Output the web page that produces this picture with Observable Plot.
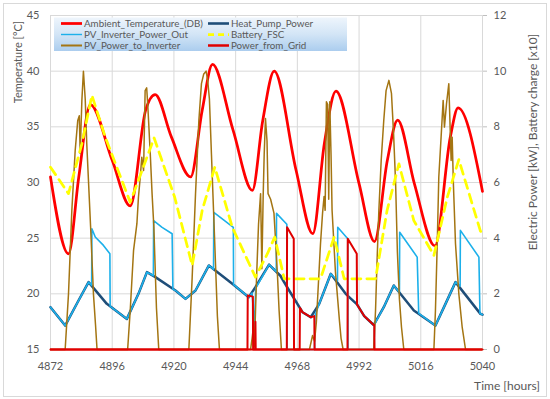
<!DOCTYPE html>
<html><head><meta charset="utf-8">
<script src="https://cdn.jsdelivr.net/npm/d3@7"></script>
<script src="https://cdn.jsdelivr.net/npm/@observablehq/plot@0.6"></script>
<style>
html,body{margin:0;padding:0;background:#fff;}
#wrap{position:relative;width:550px;height:399px;overflow:hidden;font-family:Lato,"Open Sans",sans-serif;}
#frame{position:absolute;left:3px;top:3px;width:542px;height:392px;border:1px solid #d9d9d9;pointer-events:none;}
#chart{position:absolute;left:0;top:0;}
</style></head><body><div id="wrap"><div id="chart"></div><div id="frame"></div></div>
<script>
// ---------- data ----------
const hourTicks = [4872, 4896, 4920, 4944, 4968, 4992, 5016, 5040];
const powerTicks = [0, 2, 4, 6, 8, 10, 12];
const tempTicks = [15, 20, 25, 30, 35, 40, 45];

const seriesNames = ["Ambient_Temperature_(DB)", "Heat_Pump_Power", "PV_Inverter_Power_Out", "Battery_FSC", "PV_Power_to_Inverter", "Power_from_Grid"];
const seriesColors = ["#ff0000", "#1f4e79", "#1cb0ea", "#ffff00", "#a47512", "#e00000"];

// [hour, °C]
const ambientTemperature = [[4872,30.5],[4879,23.6],[4883,30.5],[4887.5,37.0],[4896,32.0],[4903,27.9],[4909,36.5],[4912.7,37.9],[4919,34.1],[4926.5,30.5],[4931,36.5],[4935,40.6],[4943,34.7],[4950.5,29.3],[4954.5,35.5],[4959,40.0],[4967.5,31.1],[4974,25.4],[4978.5,33.5],[4983,38.2],[4992,29.9],[4998,24.7],[5003,32.0],[5007,35.6],[5013.5,29.9],[5021.5,24.3],[5027.5,34.1],[5030.5,36.7],[5040,29.2]];

// [hour, kW]
const heatPumpPower = [[4872,1.52],[4877.7,0.86],[4882.9,1.76],[4886.8,2.42],[4893.9,1.64],[4901.7,1.10],[4906.2,2.0],[4909.5,2.78],[4912.8,2.6],[4920.6,2.12],[4924.5,1.82],[4928.4,2.12],[4933.6,3.02],[4942.7,2.36],[4949.1,1.88],[4951.7,2.24],[4957.0,3.05],[4961.4,2.65],[4964.8,2.12],[4970.0,1.34],[4973.2,1.16],[4976.5,1.64],[4981.0,2.72],[4986.8,2.0],[4991.2,1.62],[4994,1.2],[4997.7,0.88],[5001.6,1.52],[5005.5,2.3],[5013.3,1.4],[5021.7,0.86],[5025.6,1.64],[5029.5,2.42],[5039.2,1.28],[5040,1.25]];

const pvInverterPowerOut = [[4872,1.52],[4877.7,0.86],[4882.9,1.76],[4886.8,2.42],[4888.0,2.3],
 [4888.1,4.34],[4889.4,4.04],[4892.6,3.74],[4895.1,3.44],
 [4895.2,1.55],[4901.7,1.10],[4906.2,2.0],[4909.5,2.78],[4912.0,2.65],
 [4912.1,4.63],[4915.4,4.39],[4919.3,4.16],
 [4919.6,2.16],[4920.6,2.12],[4924.5,1.82],[4928.4,2.12],[4933.6,3.02],[4935.4,2.88],
 [4935.5,4.93],[4943.1,4.39],
 [4943.2,2.33],[4949.1,1.88],[4950.4,2.03],[4951.3,0.8],[4951.8,2.2],[4957.0,3.05],[4959.8,2.8],
 [4959.9,4.89],[4963.9,4.5],
 [4964.0,0],[4974.7,0],
 [4974.8,1.2],[4976.5,1.64],[4981.0,2.72],[4983.6,2.47],
 [4983.7,4.39],[4987.6,3.98],
 [4987.7,0],[4997.9,0],
 [4998.0,0.9],[5001.6,1.52],[5005.5,2.3],[5007.7,2.05],
 [5007.8,4.21],[5014.6,3.32],
 [5015.2,1.3],[5021.7,0.86],[5025.6,1.64],[5029.5,2.42],[5031.3,2.28],
 [5031.4,4.28],[5038.6,3.32],
 [5039.0,1.3],[5040,1.25]];

// [hour, charge x10]
const batteryFSC = [[4872,6.55],[4879.0,5.6],[4884.2,7.39],[4888.1,9.13],[4893.3,7.63],[4903.0,5.29],[4912.3,7.6],[4920.3,5.47],[4927.1,3.02],[4931.0,5.0],[4935.9,6.55],[4942.7,4.39],[4951.7,2.6],[4956.4,3.45],[4959.2,4.04],[4962.9,2.54],[4977.0,2.54],[4982.3,4.04],[4986.2,2.54],[4998.4,2.54],[5002.9,5.0],[5007.5,6.67],[5013.3,4.63],[5021.1,3.38],[5026.3,5.47],[5030.8,6.82],[5039.2,4.25],[5040,4.2]];

const pvPowerToInverter = [[4872,0],
 [4877.7,0],[4879.0,2.0],[4880.3,5.0],[4881.6,7.15],[4882.6,8.23],[4883.2,8.4],[4883.55,7.04],[4884.2,8.95],[4884.8,10.0],[4885.5,9.0],[4886.1,7.4],[4886.8,6.0],[4887.6,4.4],[4888.7,2.0],[4889.5,0.9],[4890.1,0],
 [4902.0,0],[4903.0,1.4],[4904.3,3.56],[4905.6,4.52],[4906.2,5.47],[4906.9,6.19],[4907.5,6.91],[4908.2,6.43],[4908.8,9.3],[4909.4,9.4],[4909.8,8.83],[4910.8,7.03],[4911.5,5.6],[4912.2,4.39],[4913.2,1.5],[4914.1,0],
 [4925.8,0],[4927.1,2.6],[4928.4,5.6],[4929.7,8.23],[4930.7,9.55],[4931.6,9.9],[4932.5,10.0],[4933.1,9.7],[4933.8,9.0],[4934.6,7.0],[4935.4,5.0],[4936.2,3.0],[4936.9,1.2],[4937.7,0],
 [4949.8,0],[4950.4,0.4],[4950.9,0.8],[4951.3,0.1],[4952.1,2.5],[4952.9,4.5],[4953.7,5.6],[4954.2,2.9],[4954.7,5.5],[4955.1,7.0],[4955.6,8.3],[4956.2,7.5],[4956.6,5.6],[4957.6,5.4],[4958.9,4.9],[4959.6,3.8],[4960.3,2.6],[4960.9,1.4],[4961.8,0],
 [4972.7,0],[4973.9,0.5],[4974.7,0.3],[4975.4,1.0],[4976.2,2.4],[4977.0,3.8],[4977.8,4.9],[4978.4,5.5],[4978.8,5.0],[4979.3,8.9],[4979.8,8.8],[4980.2,5.4],[4980.6,8.9],[4981.1,7.0],[4981.5,5.0],[4982.1,4.0],[4982.8,2.8],[4983.6,1.9],[4984.4,1.0],[4985.0,0.4],[4985.8,0],
 [4997.7,0],[4998.4,1.4],[4999.0,3.2],[4999.7,5.0],[5000.6,6.79],[5001.6,8.23],[5002.5,9.3],[5003.6,9.67],[5004.6,9.2],[5005.4,7.8],[5006.2,6.0],[5006.9,3.5],[5007.7,1.8],[5008.5,0.8],[5009.4,0],
 [5021.1,0],[5021.7,1.4],[5022.4,3.8],[5023.0,6.19],[5023.9,7.63],[5024.7,8.95],[5025.2,7.99],[5026.0,8.83],[5026.9,9.55],[5027.4,8.0],[5027.8,6.79],[5028.2,7.63],[5028.7,5.9],[5029.5,3.8],[5030.8,2.0],[5032.1,0.8],[5033.4,0],
 [5040,0]];

const powerFromGrid = [[4872,0],[4948.6,0],[4948.7,1.94],[4950.7,1.9],[4950.8,0],[4951.6,0],[4951.7,1.0],[4951.8,0],[4963.9,0],[4964.0,4.39],[4966.6,3.98],[4966.7,0],[4968.9,0],[4969.0,1.5],[4970.0,1.34],[4973.2,1.16],[4974.6,1.2],[4974.7,0],[4987.5,0],[4987.6,3.98],[4991.1,3.44],[4991.2,1.62],[4994,1.2],[4997.7,0.88],[4997.9,0.88],[4998.0,0],[5040,0]];

// ---------- chart ----------
const toPowerScale = d => (d[1] - tempTicks[0]) * (powerTicks[powerTicks.length-1] / (tempTicks[tempTicks.length-1] - tempTicks[0]));
const gridColor = "#d9d9d9";
const txtFont = "Lato, 'Open Sans', sans-serif";

const chart = Plot.plot({
  width: 550, height: 399,
  marginLeft: 50, marginRight: 68, marginTop: 15, marginBottom: 50,
  style: {fontFamily: txtFont, fontSize: "11px", color: "#595959", background: "none", overflow: "visible"},
  x: {domain: [4872, 5040]},
  y: {domain: [0, 12]},
  marks: [
    Plot.gridX(hourTicks, {stroke: gridColor, strokeOpacity: 1}),
    Plot.gridY(powerTicks, {stroke: gridColor, strokeOpacity: 1}),
    Plot.axisX(hourTicks, {tickSize: 0, tickPadding: 13, tickFormat: d => String(d), label: null, fontSize: 11}),
    Plot.axisY(powerTicks, {anchor: "left", tickSize: 0, tickPadding: 11, tickFormat: (d, i) => tempTicks[i], label: null, fontSize: 11}),
    Plot.axisY(powerTicks, {anchor: "right", tickSize: 4, tickPadding: 7, stroke: "#bfbfbf", label: null, fontSize: 11}),
    Plot.line(ambientTemperature, {x: d => d[0], y: toPowerScale, stroke: seriesColors[0], strokeWidth: 2.75, curve: "monotone-x"}),
    Plot.line(heatPumpPower, {x: d => d[0], y: d => d[1], stroke: seriesColors[1], strokeWidth: 2.5}),
    Plot.line(pvInverterPowerOut, {x: d => d[0], y: d => d[1], stroke: seriesColors[2], strokeWidth: 1.6}),
    Plot.line(pvPowerToInverter, {x: d => d[0], y: d => d[1], stroke: seriesColors[4], strokeWidth: 1.5}),
    Plot.line(batteryFSC, {x: d => d[0], y: d => d[1], stroke: seriesColors[3], strokeWidth: 2.75, strokeDasharray: "9,6"}),
    Plot.ruleY([0], {stroke: seriesColors[5], strokeWidth: 2}),
    Plot.line(powerFromGrid, {x: d => d[0], y: d => d[1], stroke: seriesColors[5], strokeWidth: 2})
  ]
});
document.getElementById("chart").appendChild(chart);

// ---------- titles & legend ----------
const svg = d3.select(chart);
svg.append("text").attr("transform", "translate(22,62) rotate(-90)").attr("text-anchor", "middle")
  .attr("font-family", txtFont).attr("font-size", 11).attr("fill", "#595959").text("Temperature [°C]");
svg.append("text").attr("transform", "translate(537,142) rotate(-90)").attr("text-anchor", "middle")
  .attr("font-family", txtFont).attr("font-size", 12).attr("fill", "#595959").text("Electric Power [kW], Battery charge [x10]");
svg.append("text").attr("x", 540).attr("y", 390).attr("text-anchor", "end")
  .attr("font-family", txtFont).attr("font-size", 12).attr("fill", "#595959").text("Time [hours]");

svg.append("defs").html('<linearGradient id="legGrad" x1="0" y1="0" x2="0" y2="1"><stop offset="0" stop-color="#eef5fc"/><stop offset="0.5" stop-color="#d3e5f6"/><stop offset="1" stop-color="#abcdee"/></linearGradient>');
const leg = svg.append("g");
leg.append("rect").attr("x", 54).attr("y", 17.5).attr("width", 293).attr("height", 33.5).attr("fill", "url(#legGrad)");
const legendWidths = [2.75, 2.6, 1.4, 2.75, 2, 2.5];
seriesNames.forEach((name, i) => {
  const col = i % 2, row = Math.floor(i / 2);
  const x0 = col === 0 ? 61 : 208, y0 = 23.5 + row * 11;
  leg.append("line").attr("x1", x0).attr("x2", x0 + 21).attr("y1", y0).attr("y2", y0)
    .attr("stroke", seriesColors[i]).attr("stroke-width", legendWidths[i])
    .attr("stroke-dasharray", i === 3 ? "6,4" : null);
  leg.append("text").attr("x", x0 + 23).attr("y", y0).attr("dy", "0.35em").attr("text-anchor", "start")
    .attr("font-family", txtFont).attr("font-size", 9.8).attr("fill", "#595959").text(name);
});
</script></body></html>
